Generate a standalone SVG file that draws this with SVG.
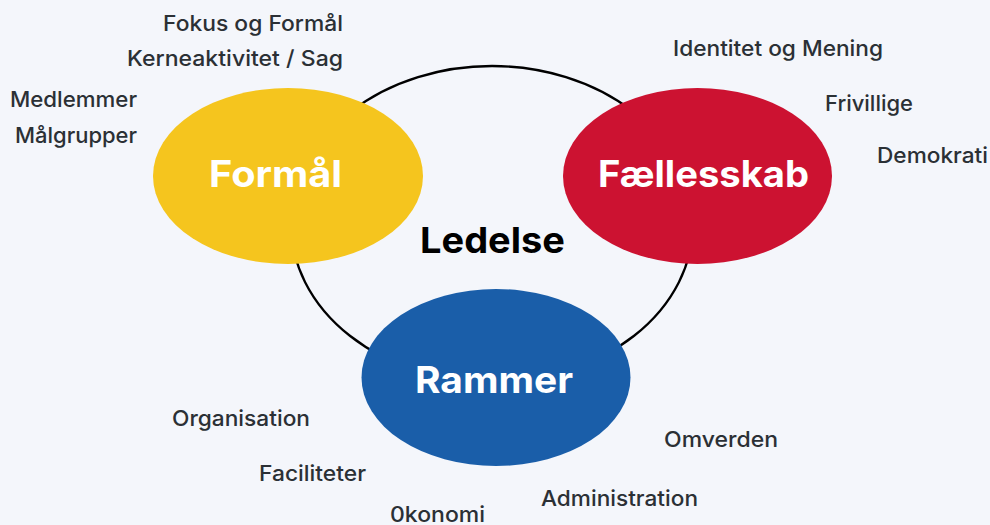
<svg xmlns="http://www.w3.org/2000/svg" width="990" height="525" viewBox="0 0 990 525">
<style>
.lbl{font-family:Inter,"Noto Sans","Liberation Sans",sans-serif;font-size:21.5px;font-weight:500;fill:#2b3035}
.ttl{font-family:Inter,"Noto Sans","Liberation Sans",sans-serif;font-size:37px;font-weight:700;fill:#ffffff}
.ctr{font-family:Inter,"Noto Sans","Liberation Sans",sans-serif;font-size:36px;font-weight:700;fill:#000000}
</style>
<rect width="990" height="525" fill="#f4f6fb"/>
<g id="connectors">
<ellipse cx="492" cy="224" rx="201" ry="158" fill="none" stroke="#000" stroke-width="2.3"/>
</g>
<g id="ledelse">
<text class="ctr" x="420" y="253" textLength="145" lengthAdjust="spacingAndGlyphs">Ledelse</text>
</g>
<g id="formaal">
<ellipse cx="288" cy="176" rx="135" ry="88" fill="#f5c51e"/>
<text class="ttl" x="209" y="187" textLength="133" lengthAdjust="spacingAndGlyphs">Formål</text>
</g>
<g id="faellesskab">
<ellipse cx="697.5" cy="176" rx="134.5" ry="88" fill="#cc1231"/>
<text class="ttl" x="598" y="187" textLength="211" lengthAdjust="spacingAndGlyphs">Fællesskab</text>
</g>
<g id="rammer">
<ellipse cx="496" cy="377.5" rx="134.5" ry="88.5" fill="#1a5ea9"/>
<text class="ttl" x="415" y="393" textLength="158" lengthAdjust="spacingAndGlyphs">Rammer</text>
</g>
<g id="labels">
<text class="lbl" x="163" y="31" textLength="180" lengthAdjust="spacingAndGlyphs">Fokus og Formål</text>
<text class="lbl" x="127" y="66" textLength="216" lengthAdjust="spacingAndGlyphs">Kerneaktivitet / Sag</text>
<text class="lbl" x="10" y="107" textLength="127" lengthAdjust="spacingAndGlyphs">Medlemmer</text>
<text class="lbl" x="15" y="143" textLength="122" lengthAdjust="spacingAndGlyphs">Målgrupper</text>
<text class="lbl" x="673" y="56" textLength="210" lengthAdjust="spacingAndGlyphs">Identitet og Mening</text>
<text class="lbl" x="825" y="111" textLength="88" lengthAdjust="spacingAndGlyphs">Frivillige</text>
<text class="lbl" x="877" y="163" textLength="111" lengthAdjust="spacingAndGlyphs">Demokrati</text>
<text class="lbl" x="172" y="426" textLength="138" lengthAdjust="spacingAndGlyphs">Organisation</text>
<text class="lbl" x="259" y="481" textLength="107" lengthAdjust="spacingAndGlyphs">Faciliteter</text>
<text class="lbl" x="390" y="522" textLength="95" lengthAdjust="spacingAndGlyphs">0konomi</text>
<text class="lbl" x="541" y="506" textLength="157" lengthAdjust="spacingAndGlyphs">Administration</text>
<text class="lbl" x="664" y="447" textLength="114" lengthAdjust="spacingAndGlyphs">Omverden</text>
</g>
</svg>
